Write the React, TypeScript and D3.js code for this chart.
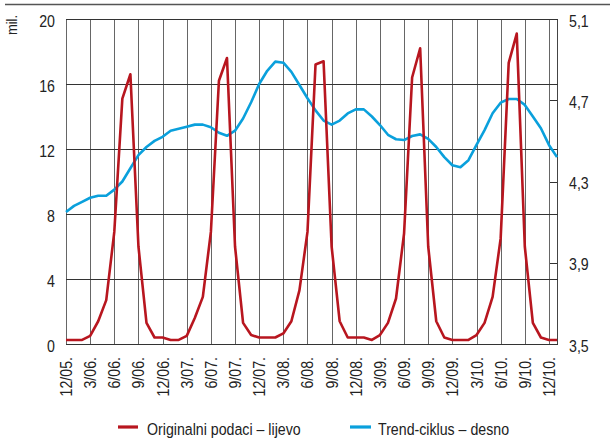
import React from "react";
import * as d3 from "d3";

const original: number[] = [
  0.25, 0.25, 0.25, 0.5, 1.4, 2.7, 6.9, 15.1, 16.6, 6.0, 1.3, 0.4,
  0.4, 0.25, 0.25, 0.5, 1.6, 2.9, 6.9, 16.2, 17.6, 6.0, 1.3, 0.55,
  0.4, 0.4, 0.4, 0.65, 1.4, 3.3, 6.9, 17.2, 17.4, 6.0, 1.4, 0.4,
  0.4, 0.4, 0.25, 0.55, 1.3, 2.8, 6.8, 16.4, 18.2, 6.0, 1.4, 0.4,
  0.25, 0.25, 0.25, 0.55, 1.3, 2.9, 6.5, 17.3, 19.1, 6.0, 1.3, 0.4,
  0.25, 0.25,
];

const trend: number[] = [
  4.15, 4.18, 4.2, 4.22, 4.23, 4.23, 4.26, 4.3, 4.365, 4.43, 4.47, 4.5,
  4.52, 4.55, 4.56, 4.57, 4.58, 4.58, 4.567, 4.54, 4.525, 4.55, 4.61, 4.69,
  4.78, 4.845, 4.89, 4.885, 4.84, 4.775, 4.71, 4.65, 4.6, 4.58, 4.6, 4.635,
  4.655, 4.655, 4.62, 4.578, 4.53, 4.508, 4.504, 4.524, 4.532, 4.51, 4.47, 4.42,
  4.38, 4.37, 4.405, 4.48, 4.553, 4.636, 4.688, 4.706, 4.706, 4.677, 4.62, 4.562,
  4.48, 4.42,
];

const xTickLabels: string[] = [
  "12/05.", "3/06.", "6/06.", "9/06.", "12/06.", "3/07.", "6/07.", "9/07.",
  "12/07.", "3/08.", "6/08.", "9/08.", "12/08.", "3/09.", "6/09.", "9/09.",
  "12/09.", "3/10.", "6/10.", "9/10.", "12/10.",
];

const leftTicks: number[] = [0, 4, 8, 12, 16, 20];
const rightTicks: number[] = [3.5, 3.9, 4.3, 4.7, 5.1];

const seriesNames: string[] = ["Originalni podaci – lijevo", "Trend-ciklus – desno"];
const unitLabel = "mil.";

const RED = "#b8161f";
const BLUE = "#0aa0dc";
const FONT = "'Liberation Sans', Arial, sans-serif";
const SX = 0.86;

function NText(props: { x: number; y: number; rotate?: number; anchor?: string; size?: number; children: React.ReactNode }) {
  const { x, y, rotate = 0, anchor = "start", size = 16.5, children } = props;
  return (
    <g transform={`translate(${x},${y}) rotate(${rotate})`}>
      <text transform={`scale(${SX},1)`} textAnchor={anchor} fontSize={size} fill="#222">{children}</text>
    </g>
  );
}

export default function App() {
  const W = 614, H = 441;
  const left = 66, right = 557, top = 19, bottom = 344;
  const x = d3.scaleLinear().domain([0, original.length - 1]).range([left, right]);
  const yL = d3.scaleLinear().domain([0, 20]).range([bottom, top]);
  const yR = d3.scaleLinear().domain([3.5, 5.1]).range([bottom, top]);

  const lineL = d3.line<number>().x((_, i) => x(i)).y((d) => yL(d));
  const lineR = d3.line<number>().x((_, i) => x(i)).y((d) => yR(d));

  const fmtR = (v: number) => v.toFixed(1).replace(".", ",");

  return (
    <svg width={W} height={H} style={{ position: "absolute", left: 0, top: 0, background: "#fff" }} fontFamily={FONT}>
      <line x1={5} x2={610} y1={4.5} y2={4.5} stroke="#555" strokeWidth={1.3} />
      {/* vertical grid */}
      {xTickLabels.map((lab, k) => (
        <line key={"v" + k} x1={Math.round(x(k * 3)) + 0.5} x2={Math.round(x(k * 3)) + 0.5} y1={top} y2={bottom} stroke="#666" strokeWidth={1} />
      ))}
      <line x1={right + 0.5} x2={right + 0.5} y1={top} y2={bottom} stroke="#444" strokeWidth={1} />
      {/* horizontal grid */}
      {leftTicks.map((t) => (
        <line key={"h" + t} x1={left} x2={right + 1} y1={Math.round(yL(t)) + 0.5} y2={Math.round(yL(t)) + 0.5} stroke="#333" strokeWidth={1} />
      ))}
      {/* right ticks */}
      {rightTicks.map((t) => (
        <line key={"rt" + t} x1={right - 7} x2={right} y1={Math.round(yR(t)) + 0.5} y2={Math.round(yR(t)) + 0.5} stroke="#333" strokeWidth={1} />
      ))}
      {/* series */}
      <path d={lineR(trend) || ""} fill="none" stroke={BLUE} strokeWidth={2.6} strokeLinejoin="round" />
      <path d={lineL(original) || ""} fill="none" stroke={RED} strokeWidth={2.6} strokeLinejoin="round" />
      {/* left labels */}
      {leftTicks.map((t) => (
        <NText key={"ll" + t} x={55} y={yL(t) + 7.5} anchor="end">{t}</NText>
      ))}
      {/* right labels */}
      {rightTicks.map((t) => (
        <NText key={"rl" + t} x={569} y={yR(t) + 7.5}>{fmtR(t)}</NText>
      ))}
      {/* x labels */}
      {xTickLabels.map((lab, k) => (
        <NText key={"xl" + k} x={x(k * 3) + 6} y={357} rotate={-90} anchor="end">{lab}</NText>
      ))}
      <NText x={17} y={15} rotate={-90} anchor="end" size={15}>{unitLabel}</NText>
      {/* legend */}
      <line x1={118} x2={138} y1={427} y2={427} stroke={RED} strokeWidth={3.2} />
      <NText x={147} y={434.5}>{seriesNames[0]}</NText>
      <line x1={350} x2={371} y1={427} y2={427} stroke={BLUE} strokeWidth={3.2} />
      <NText x={378} y={434.5}>{seriesNames[1]}</NText>
    </svg>
  );
}
